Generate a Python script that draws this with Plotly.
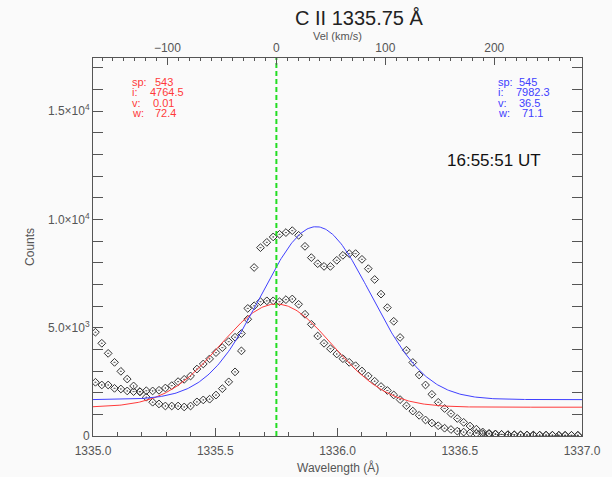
import numpy as np
import plotly.graph_objects as go

# ---------------------------------------------------------------- data
# Wavelength samples (Angstrom) of the two C II spectra
wavelength = [
    1335.010, 1335.036, 1335.062, 1335.088, 1335.114, 1335.140, 1335.166, 1335.192,
    1335.218, 1335.244, 1335.270, 1335.296, 1335.322, 1335.348, 1335.373, 1335.399,
    1335.425, 1335.451, 1335.477, 1335.503, 1335.529, 1335.555, 1335.581, 1335.607,
    1335.633, 1335.659, 1335.685, 1335.711, 1335.737, 1335.763, 1335.789, 1335.815,
    1335.841, 1335.867, 1335.893, 1335.919, 1335.945, 1335.971, 1335.997, 1336.022,
    1336.048, 1336.074, 1336.100, 1336.126, 1336.152, 1336.178, 1336.204, 1336.230,
    1336.256, 1336.282, 1336.308, 1336.334, 1336.360, 1336.386, 1336.412, 1336.438,
    1336.464, 1336.490, 1336.516, 1336.542, 1336.568, 1336.594, 1336.620, 1336.646,
    1336.671, 1336.697, 1336.723, 1336.749, 1336.775, 1336.801, 1336.827, 1336.853,
    1336.879, 1336.905, 1336.931, 1336.957, 1336.983,
]

# Observed counts, spectral position 543
counts_543 = [
    2480, 2355, 2355, 2200, 2170, 2080, 2050, 2050, 2090, 2080,
    2110, 2215, 2325, 2510, 2615, 2770, 3090, 3325, 3560, 3850,
    4080, 4355, 4560, 4730, 5890, 6010, 6200, 6240, 6240, 6200,
    6295, 6325, 6080, 5620, 5155, 4615, 4280, 4030, 3785, 3570,
    3400, 3245, 3000, 2770, 2530, 2285, 2100, 1895, 1680, 1395,
    1150, 955, 740, 600, 475, 360, 300, 225, 180, 145,
    120, 105, 90, 80, 70, 60, 55, 50, 45, 45,
    40, 40, 35, 35, 30, 30, 30,
]

# Observed counts, spectral position 545
counts_545 = [
    4790, 4280, 3815, 3400, 2985, 2630, 2310, 2040, 1790, 1560,
    1480, 1385, 1385, 1385, 1340, 1385, 1575, 1665, 1700, 1890,
    2185, 2500, 2960, 3930, 5390, 7780, 8695, 8940, 9190, 9310,
    9390, 9480, 9265, 8755, 8235, 7955, 7830, 7830, 8110, 8340,
    8420, 8420, 8155, 7725, 7225, 6550, 5925, 5295, 4550, 3960,
    3395, 2815, 2355, 1925, 1555, 1270, 1035, 810, 630, 460,
    315, 185, 125, 95, 75, 60, 50, 45, 40, 40,
    35, 35, 35, 30, 30, 30, 30,
]

# Single-Gaussian fit parameters: [spectral position, intensity, velocity, width]
fit_labels = ["sp:", "i:", "v:", "w:"]
fit_543 = ["543", "4764.5", "0.01", "72.4"]
fit_545 = ["545", "7982.3", "36.5", "71.1"]
background_543 = 1330.0
background_545 = 1680.0

rest_wavelength = 1335.75          # C II line centre (Angstrom)
time_label = "16:55:51 UT"
c_kms = 299792.458

x_range = [1335.0, 1337.0]
y_range = [0, 17450]
y_tickvals = [0, 5000, 10000, 15000]
y_ticktext = ["0", "5.0×10<sup>3</sup>", "1.0×10<sup>4</sup>", "1.5×10<sup>4</sup>"]

# ---------------------------------------------------------------- helpers
def to_vel(lam):
    return (np.asarray(lam) - rest_wavelength) / rest_wavelength * c_kms


def gauss_model(lam, amp, vel, width, bg):
    v = to_vel(lam)
    return bg + amp * np.exp(-((v - vel) / width) ** 2)


lam_fine = np.linspace(x_range[0], x_range[1], 401)
model_543 = gauss_model(lam_fine, float(fit_543[1]), float(fit_543[2]), float(fit_543[3]), background_543)
model_545 = gauss_model(lam_fine, float(fit_545[1]), float(fit_545[2]), float(fit_545[3]), background_545)

# ---------------------------------------------------------------- figure
FONT = "Liberation Sans, Arial, sans-serif"
AX = "#555555"
RED = "#ff3a3a"
BLUE = "#4040ff"

fig = go.Figure()

marker = dict(symbol="diamond-open-dot", size=6, color="#333333", line=dict(width=1, color="#333333"))
fig.add_trace(go.Scatter(x=wavelength, y=counts_543, mode="markers", marker=marker, showlegend=False))
fig.add_trace(go.Scatter(x=wavelength, y=counts_545, mode="markers", marker=marker, showlegend=False))
fig.add_trace(go.Scatter(x=lam_fine, y=model_543, mode="lines", line=dict(color=RED, width=1), showlegend=False))
fig.add_trace(go.Scatter(x=lam_fine, y=model_545, mode="lines", line=dict(color=BLUE, width=1), showlegend=False))

# rest-wavelength marker
fig.add_trace(go.Scatter(x=[rest_wavelength, rest_wavelength], y=y_range, mode="lines",
                         line=dict(color="#22dd22", width=2, dash="5px,3px"), showlegend=False))

# invisible trace carrying the velocity axis
fig.add_trace(go.Scatter(x=list(to_vel(x_range)), y=y_range, xaxis="x2", mode="markers",
                         marker=dict(opacity=0), showlegend=False, hoverinfo="skip"))

tickfont = dict(family=FONT, size=12, color=AX)

fig.update_layout(
    width=612, height=477,
    margin=dict(l=93, r=30, t=58, b=41),
    paper_bgcolor="#fafafa", plot_bgcolor="#fafafa",
    font=dict(family=FONT, color=AX),
    xaxis=dict(range=x_range, showgrid=False, zeroline=False, showline=True, linecolor=AX, linewidth=1,
               mirror=True, ticks="inside", ticklen=8, tickcolor=AX, tick0=1335.0, dtick=0.5,
               tickformat=".1f", tickfont=tickfont, ticklabelstandoff=4,
               minor=dict(ticks="inside", ticklen=4, dtick=0.1, tickcolor=AX, showgrid=False)),
    xaxis2=dict(range=list(to_vel(x_range)), overlaying="x", side="top", anchor="y",
                showgrid=False, zeroline=False, showline=True, linecolor=AX,
                ticks="inside", ticklen=7, tickcolor=AX, tick0=0, dtick=100, tickfont=tickfont,
                minor=dict(ticks="inside", ticklen=3, dtick=10, tickcolor=AX, showgrid=False)),
    yaxis=dict(range=y_range, showgrid=False, zeroline=False, showline=True, linecolor=AX, linewidth=1,
               mirror="allticks", ticks="inside", ticklen=10, tickcolor=AX,
               tickvals=y_tickvals, ticktext=y_ticktext, tickfont=tickfont,
               minor=dict(ticks="inside", ticklen=5, dtick=1000, tickcolor=AX, showgrid=False)),
)

ann = []
# plot title and axis titles
ann.append(dict(text="C II 1335.75 Å", x=0.546, y=1.106, font=dict(size=20, color="#222222", family=FONT)))
ann.append(dict(text="Vel (km/s)", x=0.5, y=1.058, font=dict(size=11, color=AX, family=FONT)))
ann.append(dict(text="Wavelength (Å)", x=0.5, y=-0.084, font=dict(size=12, color=AX, family=FONT)))
ann.append(dict(text="Counts", x=-0.129, y=0.5, textangle=-90, font=dict(size=12, color=AX, family=FONT)))
ann.append(dict(text=time_label, x=0.72, y=0.73, xanchor="left", font=dict(size=17, color="#111111", family=FONT)))

# fit parameter blocks
rows_y = [0.9373, 0.910, 0.882, 0.855]
key_x_543, val_x_543 = (130 - 93) / 489, [152.7, 148.3, 150.7, 153.3]
key_x_545, val_x_545 = (496 - 93) / 489, [517.3, 514.0, 517.0, 520.0]
for j in range(4):
    for key_x, val_x, vals, col in ((key_x_543, val_x_543, fit_543, RED), (key_x_545, val_x_545, fit_545, BLUE)):
        ann.append(dict(text=fit_labels[j], x=key_x, y=rows_y[j], xanchor="left",
                        font=dict(size=11, color=col, family=FONT)))
        ann.append(dict(text=vals[j], x=(val_x[j] - 93) / 489, y=rows_y[j], xanchor="left",
                        font=dict(size=11, color=col, family=FONT)))

for a in ann:
    a.setdefault("xanchor", "center")
    a.update(xref="paper", yref="paper", yanchor="middle", showarrow=False)
fig.update_layout(annotations=ann)

fig.write_html("out.html")
